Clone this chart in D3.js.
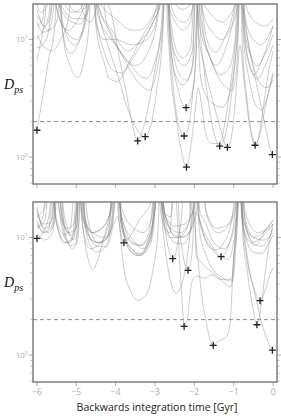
<!DOCTYPE html>
<html>
<head>
<meta charset="utf-8">
<script src="https://cdn.jsdelivr.net/npm/d3@7"></script>
<style>
  body { margin: 0; background: #fff; }
</style>
</head>
<body>
<div id="chart"></div>
<script>
// Time axis ticks (Gyr) and log-axis ticks for D_ps
const xTicks = [-6, -5, -4, -3, -2, -1, 0];
const yMajorTicks = [1, 10];
const yMinorTicks = [0.6, 0.7, 0.8, 0.9, 2, 3, 4, 5, 6, 7, 8, 9];
const threshold = 2;

// Closest approaches marked with "+"  [time, D_ps]
const topMinima = [[-6.0, 1.69], [-3.44, 1.37], [-3.25, 1.49], [-2.21, 2.63], [-2.26, 1.51],
  [-2.2, 0.82], [-1.355, 1.24], [-1.16, 1.21], [-0.457, 1.26], [-0.017, 1.05]];
const bottomMinima = [[-6.0, 9.8], [-3.79, 9.0], [-2.55, 6.6], [-2.16, 5.25], [-2.26, 1.75],
  [-1.32, 6.86], [-1.52, 1.21], [-0.33, 2.9], [-0.41, 1.81], [-0.017, 1.1]];

// Orbit distance curves, upper panel  [time, D_ps]
const topOrbits = [
  [[-6.0,1.69],[-5.85,3.3],[-5.7,6.8],[-5.55,12.5],[-5.45,40],[-5.35,12],[-5.2,6.5],[-4.95,4.76],[-4.8,6.8],[-4.68,13],[-4.6,40],
   [-4.5,16],[-4.3,8],[-4.05,5.4],[-3.85,5.2],[-3.6,7],[-3.3,11],[-3.0,17],[-2.75,40],[-2.65,20],[-2.45,13.5],[-2.3,12],[-2.1,14],[-1.95,40],
   [-1.9,12],[-1.85,5],[-1.7,3.3],[-1.5,2.8],[-1.3,2.65],[-1.12,3.3],[-0.98,6],[-0.88,14],[-0.82,40],[-0.7,14],[-0.5,6],[-0.3,4.1],[-0.15,3.9],[0,4.5]],
  [[-6.0,14],[-5.85,11.5],[-5.7,12],[-5.58,18],[-5.5,40],[-5.4,16],[-5.28,9],[-5.15,7.6],[-5.0,8.5],[-4.8,14],[-4.62,40],
   [-4.3,24],[-4.07,14.5],[-3.94,8],[-3.81,4.8],[-3.69,3.0],[-3.56,1.8],[-3.44,1.37],[-3.3,1.75],[-3.15,2.9],[-3.0,5.6],[-2.85,12],[-2.73,40],
   [-2.62,12],[-2.45,7],[-2.25,6],[-2.05,8],[-1.93,40],[-1.85,16],[-1.6,7],[-1.3,4.3],[-1.04,3.7],[-0.92,6],[-0.83,40],
   [-0.72,16],[-0.5,10],[-0.3,9],[-0.1,11],[0,13]],
  [[-6.0,6.6],[-5.9,9.5],[-5.8,15],[-5.7,40],[-5.5,18],[-5.2,11],[-5.0,10],[-4.8,13],[-4.6,40],
   [-4.45,18],[-4.2,9],[-3.95,5],[-3.7,2.6],[-3.45,1.7],[-3.25,1.49],[-3.1,1.9],[-2.95,3.8],[-2.82,9],[-2.72,40],
   [-2.62,10],[-2.48,5],[-2.3,4.1],[-2.1,5],[-1.96,12],[-1.9,40],[-1.8,14],[-1.6,7],[-1.45,6],[-1.2,8.5],[-0.95,20],[-0.85,40],
   [-0.75,12],[-0.6,6],[-0.48,5],[-0.3,6.5],[-0.1,10],[0,13]],
  [[-6.0,18],[-5.8,13],[-5.65,16],[-5.52,40],[-5.35,14],[-5.05,9],[-4.85,11],[-4.68,20],[-4.58,40],
   [-4.45,20],[-4.1,11],[-3.7,6],[-3.4,4.2],[-3.13,3.7],[-2.95,5.5],[-2.8,13],[-2.71,40],
   [-2.6,9],[-2.4,3.6],[-2.21,2.63],[-2.05,3.6],[-1.95,8],[-1.88,40],[-1.78,16],[-1.6,8.5],[-1.45,7.8],[-1.25,10],[-1.0,18],[-0.85,40],
   [-0.75,10],[-0.6,4.5],[-0.45,2.8],[-0.3,2.5],[-0.15,3.2],[0,5]],
  [[-6.0,10],[-5.85,12],[-5.7,16],[-5.6,40],[-5.45,20],[-5.1,14],[-4.9,13.5],[-4.72,18],[-4.6,40],
   [-4.45,16],[-4.0,9],[-3.6,6],[-3.35,4.8],[-3.2,4.7],[-3.0,6.5],[-2.82,13],[-2.72,40],
   [-2.65,12],[-2.55,4.5],[-2.45,2.3],[-2.35,1.65],[-2.26,1.51],[-2.15,1.8],[-2.05,3.3],[-1.96,8],[-1.9,40],
   [-1.8,18],[-1.5,11],[-1.3,10],[-1.1,12],[-0.9,20],[-0.82,40],[-0.72,11],[-0.55,5.5],[-0.4,4.6],[-0.2,6],[0,9]],
  [[-6.0,13],[-5.85,15],[-5.75,40],[-5.55,22],[-5.35,13],[-5.2,12],[-5.0,14],[-4.75,22],[-4.6,40],
   [-4.45,20],[-4.1,12],[-3.7,8],[-3.4,9.5],[-3.1,13],[-2.85,22],[-2.73,40],
   [-2.69,14.5],[-2.64,8],[-2.58,4.2],[-2.49,2.5],[-2.41,1.6],[-2.32,1.08],[-2.2,0.82],[-2.08,1.3],[-1.98,2.5],[-1.9,3.84],
   [-1.8,2.5],[-1.73,1.69],[-1.65,1.39],[-1.55,1.31],[-1.42,1.3],[-1.32,1.4],[-1.2,2.2],[-1.05,5],[-0.93,12],[-0.84,40],
   [-0.7,20],[-0.45,14],[-0.2,13],[0,15]],
  [[-6.0,8.5],[-5.85,9],[-5.7,12],[-5.55,40],[-5.4,20],[-5.05,15],[-4.8,15],[-4.65,22],[-4.58,40],
   [-4.5,14],[-4.3,10],[-4.0,10],[-3.6,9],[-3.3,9.5],[-3.0,13],[-2.78,40],[-2.6,20],[-2.4,14.5],[-2.25,14],[-2.05,18],[-1.92,40],
   [-1.85,12],[-1.75,5.5],[-1.62,2.6],[-1.5,1.6],[-1.355,1.24],[-1.2,1.6],[-1.05,3.5],[-0.93,9],[-0.83,40],
   [-0.72,12],[-0.55,7],[-0.4,6],[-0.2,7.5],[0,11]],
  [[-6.0,16],[-5.7,12],[-5.5,14],[-5.35,40],[-5.2,20],[-4.95,17],[-4.75,19],[-4.6,40],
   [-4.5,13],[-4.3,6.5],[-4.15,4.6],[-3.95,4.4],[-3.7,5.8],[-3.4,8.5],[-3.05,14],[-2.8,24],[-2.7,40],
   [-2.6,12],[-2.4,5.2],[-2.2,4.5],[-2.05,6],[-1.95,40],[-1.9,12],[-1.75,6],[-1.55,3.2],[-1.35,1.8],[-1.16,1.21],[-1.02,1.8],[-0.93,4],
   [-0.84,8.9],[-0.74,4.5],[-0.62,2.1],[-0.5,1.35],[-0.42,1.3],[-0.3,2],[-0.15,4.5],[0,8]],
  [[-6.0,11],[-5.8,8.5],[-5.6,8],[-5.4,10],[-5.2,15],[-5.05,40],[-4.85,18],[-4.65,14],[-4.5,18],[-4.4,40],
   [-4.25,15],[-3.9,8],[-3.5,6],[-3.2,7.5],[-2.95,14],[-2.75,40],[-2.6,24],[-2.3,18],[-2.1,20],[-1.98,40],
   [-1.88,14],[-1.6,7],[-1.35,5],[-1.15,5.5],[-0.98,9],[-0.85,40],
   [-0.78,9],[-0.68,3.5],[-0.56,1.7],[-0.457,1.26],[-0.35,1.5],[-0.2,2.6],[-0.05,4.5],[0,5.2]],
  [[-6.0,20],[-5.9,17],[-5.75,19],[-5.65,40],[-5.4,24],[-5.1,17],[-4.95,17.5],[-4.75,24],[-4.62,40],
   [-4.45,22],[-4.0,15],[-3.6,12],[-3.4,12],[-3.1,15],[-2.85,24],[-2.74,40],[-2.62,16],[-2.45,8],[-2.3,7],[-2.1,8.5],[-1.95,40],
   [-1.85,24],[-1.55,16],[-1.3,14],[-1.1,16],[-0.9,24],[-0.8,40],
   [-0.76,18.7],[-0.67,11.2],[-0.51,5.8],[-0.33,3.0],[-0.16,1.6],[-0.017,1.05],[0,1.05]]
];

// Orbit distance curves, lower panel  [time, D_ps]
const bottomOrbits = [
  [[-6.0,9.8],[-5.85,11],[-5.7,15],[-5.55,40],[-5.45,18],[-5.25,12],[-5.1,12.5],[-4.98,18],[-4.9,40],[-4.8,16],[-4.6,11],[-4.4,11.5],[-4.15,16],[-3.99,40],
   [-3.85,18],[-3.55,12],[-3.3,11],[-3.1,14],[-2.92,40],[-2.8,17],[-2.5,12.5],[-2.25,13],[-2.0,18],[-1.85,40],[-1.7,16],[-1.4,11],[-1.1,13],[-0.9,22],[-0.84,40],
   [-0.7,16],[-0.4,11],[-0.15,12],[0,14]],
  [[-6.0,13],[-5.8,11],[-5.6,13],[-5.48,40],[-5.35,15],[-5.15,10.5],[-5.0,12],[-4.92,40],[-4.8,14],[-4.5,10.5],[-4.25,10],[-4.05,13],[-3.95,15],
   [-3.85,10],[-3.79,9.0],[-3.65,10],[-3.4,14],[-3.1,20],[-2.9,40],[-2.75,16],[-2.45,10],[-2.2,10.5],[-1.95,16],[-1.85,40],[-1.7,17],[-1.45,12],[-1.2,12.5],[-0.98,18],[-0.86,40],
   [-0.72,15],[-0.5,10],[-0.25,9.5],[0,11]],
  [[-6.0,16],[-5.8,12],[-5.62,14],[-5.5,40],[-5.35,13],[-5.15,8.5],[-5.0,9],[-4.92,40],[-4.75,12],[-4.5,9],[-4.2,10],[-4.02,40],
   [-3.85,14],[-3.6,8],[-3.35,7.2],[-3.1,9],[-2.95,40],[-2.8,16],[-2.7,9.5],[-2.62,7.2],[-2.55,6.6],[-2.48,7.2],[-2.41,9.5],[-2.32,16],[-2.25,40],
   [-2.1,18],[-1.9,15],[-1.65,8.5],[-1.45,7.8],[-1.25,9],[-1.05,14],[-0.88,40],[-0.75,14],[-0.5,9],[-0.3,8.4],[-0.1,10],[0,12]],
  [[-6.0,12],[-5.85,15],[-5.7,40],[-5.55,16],[-5.3,9],[-5.1,10],[-4.95,40],[-4.85,13],[-4.65,8],[-4.4,8.8],[-4.15,14],[-4.0,40],
   [-3.85,15],[-3.55,9.5],[-3.3,8],[-3.05,11],[-2.92,40],[-2.75,16],[-2.6,15],[-2.45,40],[-2.38,12],[-2.32,8.3],[-2.24,5.9],[-2.16,5.25],[-2.09,6.2],[-2.03,10.8],[-1.98,40],
   [-1.85,16],[-1.75,14],[-1.5,9],[-1.25,8],[-1.05,10],[-0.9,20],[-0.84,40],[-0.7,13],[-0.45,8.5],[-0.2,11.5],[0,14]],
  [[-6.0,11],[-5.8,9.5],[-5.6,11],[-5.45,40],[-5.3,12],[-5.1,8],[-4.95,10],[-4.88,40],[-4.75,11],[-4.5,7.5],[-4.3,8],[-4.1,13],[-3.97,40],
   [-3.85,14],[-3.6,7.5],[-3.4,7],[-3.15,9],[-2.98,20],[-2.9,40],[-2.75,12],[-2.62,11],[-2.52,40],[-2.45,18],[-2.4,9],[-2.34,4],[-2.29,2.2],[-2.26,1.75],
   [-2.18,2.0],[-2.12,3.0],[-2.06,4.2],[-1.95,4.7],[-1.75,4.5],[-1.55,4.8],[-1.35,4.4],[-1.15,4.4],[-1.02,4.3],[-0.95,8],[-0.88,20],[-0.84,40],
   [-0.75,12],[-0.55,9],[-0.3,10],[0,13]],
  [[-6.0,15],[-5.8,18],[-5.65,40],[-5.5,14],[-5.3,10.5],[-5.15,12],[-5.0,40],[-4.85,15],[-4.6,11],[-4.35,12],[-4.1,18],[-3.97,40],
   [-3.85,12],[-3.6,8],[-3.4,7.2],[-3.2,9],[-3.0,18],[-2.9,40],[-2.75,16],[-2.5,10.5],[-2.25,10],[-2.05,13],[-1.95,40],
   [-1.86,13.1],[-1.6,8.4],[-1.32,6.86],[-1.09,9.5],[-0.97,16],[-0.9,40],[-0.75,12],[-0.5,7.5],[-0.3,7.3],[-0.1,9],[0,10.5]],
  [[-6.0,18],[-5.85,12],[-5.7,11],[-5.55,14],[-5.45,40],[-5.3,15],[-5.05,9.5],[-4.95,12],[-4.88,40],[-4.7,14],[-4.45,9],[-4.2,10],[-4.03,18],[-3.95,40],
   [-3.85,15],[-3.55,9],[-3.35,8.6],[-3.1,11],[-2.92,40],[-2.8,12],[-2.65,5],[-2.52,3.5],[-2.46,3.35],[-2.35,3.8],[-2.22,5.5],[-2.12,10],[-2.05,16.5],
   [-1.99,14],[-1.96,9.4],[-1.9,6.0],[-1.81,3.16],[-1.69,1.87],[-1.6,1.34],[-1.52,1.21],[-1.39,1.31],[-1.18,1.44],[-1.09,1.87],[-1.05,3.16],[-1.01,6.0],[-0.92,11.5],[-0.86,40],
   [-0.75,14],[-0.5,10],[-0.25,11],[0,13]],
  [[-6.0,14],[-5.85,11],[-5.7,12],[-5.55,40],[-5.4,14],[-5.2,9],[-5.05,11],[-4.92,40],[-4.86,16],[-4.8,10],[-4.72,7],[-4.58,5.36],[-4.45,6.5],[-4.3,10],[-4.15,16],[-4.02,40],
   [-3.9,15],[-3.6,9],[-3.4,8.5],[-3.15,11],[-2.95,40],[-2.85,16],[-2.6,10],[-2.4,10],[-2.15,13],[-2.02,40],
   [-1.95,7],[-1.8,6],[-1.6,5.2],[-1.4,4.6],[-1.2,4.0],[-1.08,3.8],[-1.02,5],[-0.95,12],[-0.88,40],
   [-0.8,16],[-0.68,7],[-0.5,3.8],[-0.33,2.9],[-0.22,3.4],[-0.1,4.6],[0,5.5]],
  [[-6.0,12],[-5.8,14],[-5.65,40],[-5.5,13],[-5.25,9],[-5.05,10],[-4.92,40],[-4.82,14],[-4.6,9.5],[-4.35,9],[-4.12,13],[-3.98,40],
   [-3.93,16],[-3.89,11.7],[-3.81,6.0],[-3.64,3.6],[-3.43,2.92],[-3.2,3.35],[-3.05,5.36],[-2.92,12],[-2.87,40],
   [-2.75,14],[-2.5,9],[-2.3,8.8],[-2.1,11],[-1.95,40],[-1.88,12],[-1.7,7],[-1.5,5.2],[-1.3,4.6],[-1.15,4.3],[-1.05,4.5],[-0.98,8],[-0.9,20],[-0.85,40],
   [-0.78,12],[-0.65,5],[-0.52,2.6],[-0.41,1.81],[-0.32,2.4],[-0.2,5],[-0.1,9],[0,13]],
  [[-6.0,17],[-5.85,13],[-5.65,13.5],[-5.5,40],[-5.38,16],[-5.2,11],[-5.0,12],[-4.9,40],[-4.75,13],[-4.5,8.5],[-4.25,8.3],[-4.08,12],[-3.97,40],
   [-3.85,13],[-3.6,7.5],[-3.4,7],[-3.2,8.5],[-3.02,16],[-2.9,40],[-2.8,16],[-2.55,11.5],[-2.35,11],[-2.12,14],[-1.98,40],
   [-1.9,16],[-1.6,9],[-1.35,7],[-1.15,6.5],[-1.0,9],[-0.9,18],[-0.84,40],
   [-0.8,18],[-0.72,10],[-0.63,6.06],[-0.45,3.2],[-0.29,1.88],[-0.15,1.35],[-0.08,1.19],[-0.017,1.1],[0,1.1]]
];

// Layout
const width = 281, height = 416;
const plotLeft = 33, plotRight = 277;
const panels = [
  { top: 4, bottom: 184, orbits: topOrbits, minima: topMinima, labels: false, id: "clipTop" },
  { top: 202, bottom: 382, orbits: bottomOrbits, minima: bottomMinima, labels: true, id: "clipBottom" }
];

const svg = d3.select("#chart")
  .append("svg")
    .attr("width", width)
    .attr("height", height)
    .style("font-family", "'Open Sans', sans-serif");

const x = d3.scaleLinear()
  .domain([-6.1, 0.1])
  .range([plotLeft, plotRight]);

panels.forEach(p => {
  const y = d3.scaleLog()
    .domain([0.59, 20])
    .range([p.bottom, p.top]);

  const g = svg.append("g");

  g.append("clipPath")
    .attr("id", p.id)
    .append("rect")
      .attr("x", plotLeft)
      .attr("y", p.top)
      .attr("width", plotRight - plotLeft)
      .attr("height", p.bottom - p.top);

  const plot = g.append("g").attr("clip-path", `url(#${p.id})`);

  // Orbits
  const orbitLine = d3.line()
    .x(d => x(d[0]))
    .y(d => y(d[1]))
    .curve(d3.curveMonotoneX);

  plot.selectAll(".orbit")
    .data(p.orbits)
    .enter()
    .append("path")
      .attr("d", orbitLine)
      .attr("fill", "none")
      .attr("stroke", "#808080")
      .attr("stroke-opacity", 0.5)
      .attr("stroke-width", 0.8);

  // Threshold line
  plot.append("line")
    .attr("x1", plotLeft)
    .attr("x2", plotRight)
    .attr("y1", y(threshold))
    .attr("y2", y(threshold))
    .attr("stroke", "#888")
    .attr("stroke-width", 1)
    .attr("stroke-dasharray", "4,3");

  // Minima markers
  g.selectAll(".marker")
    .data(p.minima)
    .enter()
    .append("path")
      .attr("transform", d => `translate(${x(d[0])},${y(d[1])})`)
      .attr("d", "M-3.5,0H3.5M0,-3.5V3.5")
      .attr("stroke", "#222")
      .attr("stroke-width", 1.3);

  // Y ticks, both sides, outward
  const tickColor = "#aaa";
  [[plotLeft, -1], [plotRight, 1]].forEach(([ax, dir]) => {
    g.selectAll(null)
      .data(yMajorTicks)
      .enter()
      .append("line")
        .attr("x1", ax).attr("x2", ax + dir * 4)
        .attr("y1", d => y(d)).attr("y2", d => y(d))
        .attr("stroke", tickColor).attr("stroke-width", 1);
    g.selectAll(null)
      .data(yMinorTicks)
      .enter()
      .append("line")
        .attr("x1", ax).attr("x2", ax + dir * 2.5)
        .attr("y1", d => y(d)).attr("y2", d => y(d))
        .attr("stroke", tickColor).attr("stroke-width", 0.8);
  });

  // Y tick labels 10^0, 10^1
  const yl = g.selectAll(null)
    .data(yMajorTicks)
    .enter()
    .append("text")
      .attr("x", plotLeft - 5)
      .attr("y", d => y(d) + 3)
      .attr("text-anchor", "end")
      .attr("fill", "#aaa")
      .style("font-size", "8px");
  yl.append("tspan").text("10");
  yl.append("tspan")
    .attr("dy", -3.5)
    .style("font-size", "5.5px")
    .text(d => Math.round(Math.log10(d)));

  // X ticks
  g.selectAll(null)
    .data(xTicks)
    .enter()
    .append("line")
      .attr("x1", d => x(d)).attr("x2", d => x(d))
      .attr("y1", p.bottom).attr("y2", p.bottom + 4)
      .attr("stroke", tickColor).attr("stroke-width", 1);

  if (p.labels) {
    g.selectAll(null)
      .data(xTicks)
      .enter()
      .append("text")
        .attr("x", d => x(d))
        .attr("y", p.bottom + 13)
        .attr("text-anchor", "middle")
        .attr("fill", "#aaa")
        .style("font-size", "8.5px")
        .text(d => d === 0 ? "0" : "\u2212" + Math.abs(d));
  }

  // Frame
  g.append("rect")
    .attr("x", plotLeft)
    .attr("y", p.top)
    .attr("width", plotRight - plotLeft)
    .attr("height", p.bottom - p.top)
    .attr("fill", "none")
    .attr("stroke", "#808080")
    .attr("stroke-width", 1.5);

  // Y axis label D_ps
  const lab = g.append("text")
    .attr("x", 4)
    .attr("y", (p.top + p.bottom) / 2 - 5)
    .style("font-family", "'Liberation Serif', serif")
    .style("font-style", "italic")
    .attr("fill", "#111");
  lab.append("tspan").style("font-size", "14px").text("D");
  lab.append("tspan").attr("dy", 4).style("font-size", "10px").text("ps");
});

// X axis label
svg.append("text")
  .attr("x", 157)
  .attr("y", 411)
  .attr("text-anchor", "middle")
  .attr("fill", "#222")
  .style("font-size", "10.5px")
  .text("Backwards integration time [Gyr]");
</script>
</body>
</html>
